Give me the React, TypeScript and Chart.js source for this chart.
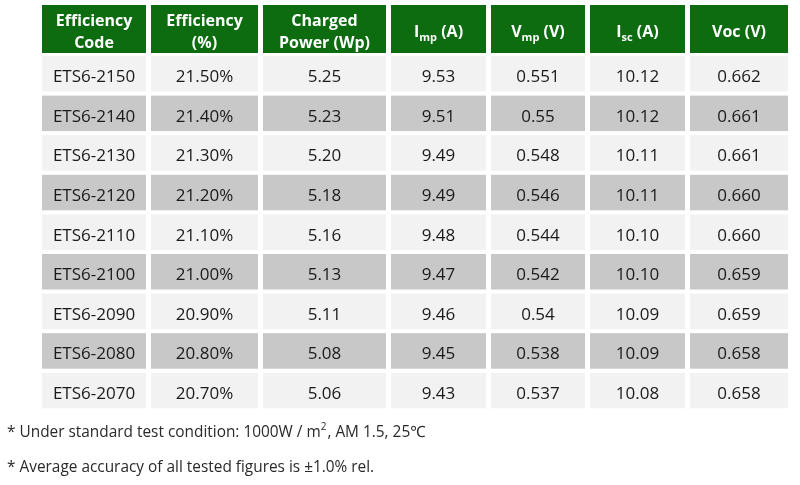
import React, { useEffect, useRef } from "react";
import { Chart, registerables } from "chart.js";

Chart.register(...registerables);

// ---- data ----
const codes = ["ETS6-2150", "ETS6-2140", "ETS6-2130", "ETS6-2120", "ETS6-2110", "ETS6-2100", "ETS6-2090", "ETS6-2080", "ETS6-2070"];
const efficiency = [21.5, 21.4, 21.3, 21.2, 21.1, 21.0, 20.9, 20.8, 20.7];
const chargedPower = [5.25, 5.23, 5.2, 5.18, 5.16, 5.13, 5.11, 5.08, 5.06];
const imp = [9.53, 9.51, 9.49, 9.49, 9.48, 9.47, 9.46, 9.45, 9.43];
const vmp = [0.551, 0.55, 0.548, 0.546, 0.544, 0.542, 0.54, 0.538, 0.537];
const isc = [10.12, 10.12, 10.11, 10.11, 10.1, 10.1, 10.09, 10.09, 10.08];
const voc = [0.662, 0.661, 0.661, 0.66, 0.66, 0.659, 0.659, 0.658, 0.658];

type Seg = { t: string; sub?: boolean };
const headerLines: Seg[][][] = [
  [[{ t: "Efficiency" }], [{ t: "Code" }]],
  [[{ t: "Efficiency" }], [{ t: "(%)" }]],
  [[{ t: "Charged" }], [{ t: "Power (Wp)" }]],
  [[{ t: "I" }, { t: "mp", sub: true }, { t: " (A)" }]],
  [[{ t: "V" }, { t: "mp", sub: true }, { t: " (V)" }]],
  [[{ t: "I" }, { t: "sc", sub: true }, { t: " (A)" }]],
  [[{ t: "Voc (V)" }]],
];

const footnote1: Seg[] = [
  { t: "* Under standard test condition: 1000W / m" },
  { t: "2", sub: true },
  { t: ", AM 1.5, 25\u2103" },
];
const footnote2 = "* Average accuracy of all tested figures is \u00b11.0% rel.";

// ---- layout (relative units, mapped by the chart's scales) ----
const colPitch = [109, 112, 128, 100, 99, 100, 103];
const colGap = 5;
const headerPitch = 51;
const headerHeight = 48;
const rowPitch = 39.6;
const rowHeight = 35.5;

const GREEN = "#0d6b10";
const LIGHT = "#f2f2f2";
const DARK = "#c8c8c8";
const FONT = "'Open Sans', 'Noto Sans', sans-serif";

function columnValues(): string[][] {
  return codes.map((c, i) => [
    c,
    efficiency[i].toFixed(2) + "%",
    chargedPower[i].toFixed(2),
    imp[i].toFixed(2),
    String(vmp[i]),
    isc[i].toFixed(2),
    voc[i].toFixed(3),
  ]);
}

function drawSegs(ctx: CanvasRenderingContext2D, segs: Seg[], cx: number, y: number, size: number, weight: string) {
  const subSize = Math.round(size * 0.7);
  const widths = segs.map((s) => {
    ctx.font = `${weight} ${s.sub ? subSize : size}px ${FONT}`;
    return ctx.measureText(s.t).width;
  });
  const total = widths.reduce((a, b) => a + b, 0);
  let x = cx - total / 2;
  segs.forEach((s, k) => {
    ctx.font = `${weight} ${s.sub ? subSize : size}px ${FONT}`;
    const dy = s.sub ? size * 0.28 : 0;
    ctx.fillText(s.t, x, y + dy);
    x += widths[k];
  });
}

const tablePlugin = {
  id: "tablePlugin",
  afterDraw(chart: any) {
    const ctx: CanvasRenderingContext2D = chart.ctx;
    const xs = chart.scales.x;
    const ys = chart.scales.y;
    const rows = columnValues();
    const colStarts: number[] = [];
    let acc = 0;
    colPitch.forEach((p) => {
      colStarts.push(acc);
      acc += p;
    });
    ctx.save();
    ctx.textAlign = "left";
    ctx.textBaseline = "alphabetic";
    // header
    colPitch.forEach((p, c) => {
      const x0 = xs.getPixelForValue(colStarts[c]);
      const x1 = xs.getPixelForValue(colStarts[c] + p - colGap);
      const y0 = ys.getPixelForValue(0);
      const y1 = ys.getPixelForValue(headerHeight);
      ctx.fillStyle = GREEN;
      ctx.fillRect(x0, y0, x1 - x0, y1 - y0);
      ctx.fillStyle = "#ffffff";
      const cx = (x0 + x1) / 2;
      const cy = (y0 + y1) / 2;
      const lines = headerLines[c];
      if (lines.length === 2) {
        drawSegs(ctx, lines[0], cx, cy - 3, 16, "bold");
        drawSegs(ctx, lines[1], cx, cy + 18.5, 16, "bold");
      } else {
        drawSegs(ctx, lines[0], cx, cy + 8, 16, "bold");
      }
    });
    // body
    rows.forEach((vals, r) => {
      const top = headerPitch + r * rowPitch;
      const y0 = ys.getPixelForValue(top);
      const y1 = ys.getPixelForValue(top + rowHeight);
      vals.forEach((v, c) => {
        const x0 = xs.getPixelForValue(colStarts[c]);
        const x1 = xs.getPixelForValue(colStarts[c] + colPitch[c] - colGap);
        ctx.fillStyle = r % 2 === 1 ? DARK : LIGHT;
        ctx.fillRect(x0, y0, x1 - x0, y1 - y0);
        ctx.fillStyle = "#1a1a1a";
        ctx.font = `17px ${FONT}`;
        ctx.textAlign = "center";
        ctx.fillText(v, (x0 + x1) / 2, (y0 + y1) / 2 + 8.5);
        ctx.textAlign = "left";
      });
    });
    // footnotes
    ctx.fillStyle = "#2a2a2a";
    ctx.textAlign = "left";
    const fx = 7;
    let x = fx;
    footnote1.forEach((s) => {
      const size = s.sub ? 10 : 15.4;
      ctx.font = `${size}px ${FONT}`;
      ctx.fillText(s.t, x, s.sub ? 430 : 437);
      x += ctx.measureText(s.t).width + (s.sub ? 1 : 0);
    });
    ctx.font = `15.4px ${FONT}`;
    ctx.fillText(footnote2, fx, 472);
    ctx.restore();
  },
};

export default function App() {
  const ref = useRef<HTMLCanvasElement | null>(null);
  useEffect(() => {
    document.body.style.margin = "0";
    const canvas = ref.current!;
    const total = colPitch.reduce((a, b) => a + b, 0);
    const totalH = headerPitch + codes.length * rowPitch;
    const chart = new Chart(canvas, {
      type: "scatter",
      data: { datasets: [] },
      options: {
        responsive: false,
        animation: false,
        events: [],
        layout: { padding: { left: 42, right: 800 - 42 - total, top: 5, bottom: 485 - 5 - totalH } },
        plugins: { legend: { display: false }, tooltip: { enabled: false } },
        scales: {
          x: { type: "linear", min: 0, max: total, display: false },
          y: { type: "linear", min: 0, max: totalH, reverse: true, display: false },
        },
      },
      plugins: [tablePlugin],
    });
    return () => chart.destroy();
  }, []);
  return (
    <div style={{ width: 800, height: 485, background: "#ffffff" }}>
      <canvas ref={ref} width={800} height={485} />
    </div>
  );
}
